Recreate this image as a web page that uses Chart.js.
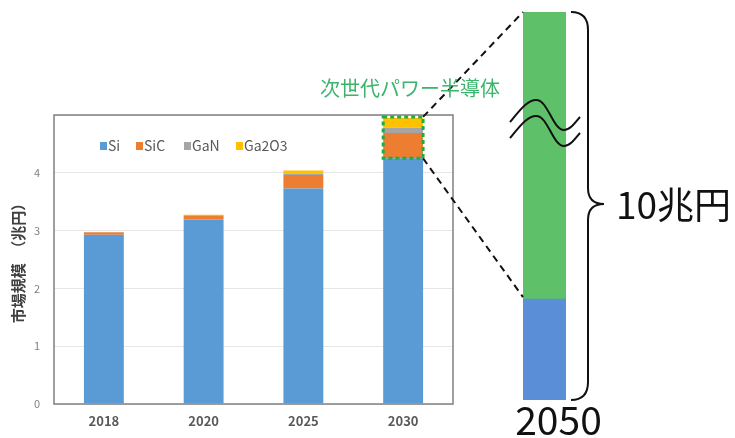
<!DOCTYPE html>
<html>
<head>
<meta charset="utf-8">
<script src="https://cdn.jsdelivr.net/npm/chart.js@4"></script>
<style>
  body { margin: 0; background: #fff; }
  #wrap { position: relative; width: 735px; height: 438px; }
  #wrap canvas { position: absolute; left: 0; top: 0; }
</style>
</head>
<body>
<div id="wrap">
  <canvas id="market" width="735" height="438"></canvas>
  <canvas id="future" width="735" height="438"></canvas>
</div>
<script>
// market size, trillion yen
const years = ['2018', '2020', '2025', '2030'];
const si = [2.93, 3.19, 3.73, 4.25];
const sic = [0.04, 0.07, 0.23, 0.44];
const gan = [0, 0.005, 0.03, 0.09];
const ga2o3 = [0, 0.01, 0.05, 0.17];
const yTicks = [0, 1, 2, 3, 4, 5];

// 2050 outlook
const years2050 = ['2050'];
const si2050 = [2.6];
const nextGen2050 = [7.4];

const JP = "'Noto Sans CJK JP', 'DejaVu Sans', sans-serif";
Chart.defaults.font.family = JP;

const market = document.getElementById('market');
const future = document.getElementById('future');

// legend + frame drawn inside the plot
const framePlugin = {
    id: 'frame',
    beforeDatasetsDraw(chart) {
        const a = chart.chartArea, ctx = chart.ctx;
        ctx.save();
        ctx.strokeStyle = '#808080';
        ctx.lineWidth = 1.5;
        ctx.strokeRect(a.left, a.top, a.right - a.left, a.bottom - a.top);
        ctx.restore();
    },
    afterDraw(chart) {
        const ctx = chart.ctx;
        const xs = [100, 136, 184, 236];
        ctx.save();
        ctx.font = '14px ' + JP;
        ctx.textBaseline = 'middle';
        chart.data.datasets.forEach((ds, i) => {
            ctx.fillStyle = ds.backgroundColor;
            ctx.fillRect(xs[i], 142, 7, 8);
            ctx.fillStyle = '#595959';
            ctx.fillText(ds.label, xs[i] + 8, 146);
        });
        ctx.restore();
    }
};

const chart1 = new Chart(market, {
    type: 'bar',
    data: {
        labels: years,
        datasets: [
            { label: 'Si', data: si, backgroundColor: '#5b9bd5' },
            { label: 'SiC', data: sic, backgroundColor: '#ed7d31' },
            { label: 'GaN', data: gan, backgroundColor: '#a5a5a5' },
            { label: 'Ga2O3', data: ga2o3, backgroundColor: '#ffc000' }
        ]
    },
    options: {
        responsive: false,
        animation: false,
        devicePixelRatio: 1,
        layout: { padding: { top: 115, right: 282, left: 0, bottom: 0 } },
        datasets: { bar: { categoryPercentage: 1, barPercentage: 0.4 } },
        plugins: { legend: { display: false }, tooltip: { enabled: false } },
        scales: {
            x: {
                stacked: true,
                grid: { display: false, drawTicks: false },
                border: { display: false },
                ticks: { padding: 9, color: '#595959', font: { size: 13, weight: 'bold' } },
                afterFit(s) { s.height = 34; }
            },
            y: {
                stacked: true,
                min: 0, max: 5,
                afterBuildTicks(s) { s.ticks = yTicks.map(v => ({ value: v })); },
                grid: { color: '#e6e6e6', drawTicks: false },
                border: { display: false },
                ticks: {
                    padding: 14, color: '#7f7f7f', font: { size: 11 },
                    callback: v => v === 5 ? '' : v
                },
                title: {
                    display: true, text: '市場規模　（兆円）', color: '#404040',
                    font: { size: 15, weight: 'bold' }, padding: { top: 9, bottom: 0 }
                },
                afterFit(s) { s.width = 54; }
            }
        }
    },
    plugins: [framePlugin]
});

// zoom box, connectors, break marks, brace
const overlayPlugin = {
    id: 'overlay',
    afterDraw(chart) {
        const ctx = chart.ctx;
        const meta1 = chart1.getDatasetMeta(1).data[3];
        const meta3 = chart1.getDatasetMeta(3).data[3];
        const bx0 = meta1.x - meta1.width / 2, bx1 = meta1.x + meta1.width / 2;
        const by0 = meta3.y - 1, by1 = meta1.base;

        const bar = chart.getDatasetMeta(1).data[0];
        const blue = chart.getDatasetMeta(0).data[0];
        const rx0 = bar.x - bar.width / 2, rx1 = bar.x + bar.width / 2;
        const rTop = bar.y, rSplit = blue.y, rBot = blue.base;

        ctx.save();
        // connectors
        ctx.strokeStyle = '#111';
        ctx.lineWidth = 2;
        ctx.setLineDash([7, 5]);
        ctx.beginPath();
        ctx.moveTo(bx1, by0); ctx.lineTo(rx0, rTop);
        ctx.moveTo(bx1, by1); ctx.lineTo(rx0, rSplit - 2);
        ctx.stroke();

        // green dashed box
        ctx.strokeStyle = '#1fae3c';
        ctx.lineWidth = 3;
        ctx.setLineDash([4, 3]);
        ctx.strokeRect(bx0, by0, bx1 - bx0, by1 - by0);
        ctx.setLineDash([]);

        // label
        ctx.fillStyle = '#3bb56c';
        ctx.font = '20px ' + JP;
        ctx.textAlign = 'center';
        ctx.textBaseline = 'middle';
        ctx.fillText('次世代パワー半導体', 410, 88);

        // break marks
        ctx.strokeStyle = '#111';
        ctx.lineWidth = 2;
        [0, 16].forEach(d => {
            ctx.beginPath();
            ctx.moveTo(510, 122 + d);
            ctx.bezierCurveTo(520, 110 + d, 528, 99 + d, 537, 100 + d);
            ctx.bezierCurveTo(548, 101 + d, 553, 130 + d, 564, 130 + d);
            ctx.bezierCurveTo(570, 130 + d, 575, 123 + d, 580, 117 + d);
            ctx.stroke();
        });

        // brace
        const x0 = rx1 + 5, xm = rx1 + 22, tip = rx1 + 38, ym = 204;
        ctx.beginPath();
        ctx.moveTo(x0, rTop);
        ctx.quadraticCurveTo(xm, rTop, xm, rTop + 18);
        ctx.lineTo(xm, ym - 16);
        ctx.quadraticCurveTo(xm, ym, tip, ym);
        ctx.quadraticCurveTo(xm, ym, xm, ym + 16);
        ctx.lineTo(xm, rBot - 18);
        ctx.quadraticCurveTo(xm, rBot, x0, rBot);
        ctx.stroke();

        ctx.fillStyle = '#111';
        ctx.font = '37px ' + JP;
        ctx.textAlign = 'left';
        ctx.fillText('10兆円', 616, 205);
        ctx.restore();
    }
};

new Chart(future, {
    type: 'bar',
    data: {
        labels: years2050,
        datasets: [
            { label: 'Si', data: si2050, backgroundColor: '#5a8ed6' },
            { label: '次世代パワー半導体', data: nextGen2050, backgroundColor: '#5ec169' }
        ]
    },
    options: {
        responsive: false,
        animation: false,
        devicePixelRatio: 1,
        layout: { padding: { top: 12, right: 169, left: 523, bottom: 0 } },
        datasets: { bar: { categoryPercentage: 1, barPercentage: 1 } },
        plugins: { legend: { display: false }, tooltip: { enabled: false } },
        scales: {
            x: {
                stacked: true,
                grid: { display: false, drawTicks: false },
                border: { display: false },
                ticks: { padding: -3, labelOffset: 14, color: '#111', font: { size: 39 } },
                afterFit(s) { s.height = 38; }
            },
            y: { stacked: true, display: false, min: 0, max: 10 }
        }
    },
    plugins: [overlayPlugin]
});
</script>
</body>
</html>
